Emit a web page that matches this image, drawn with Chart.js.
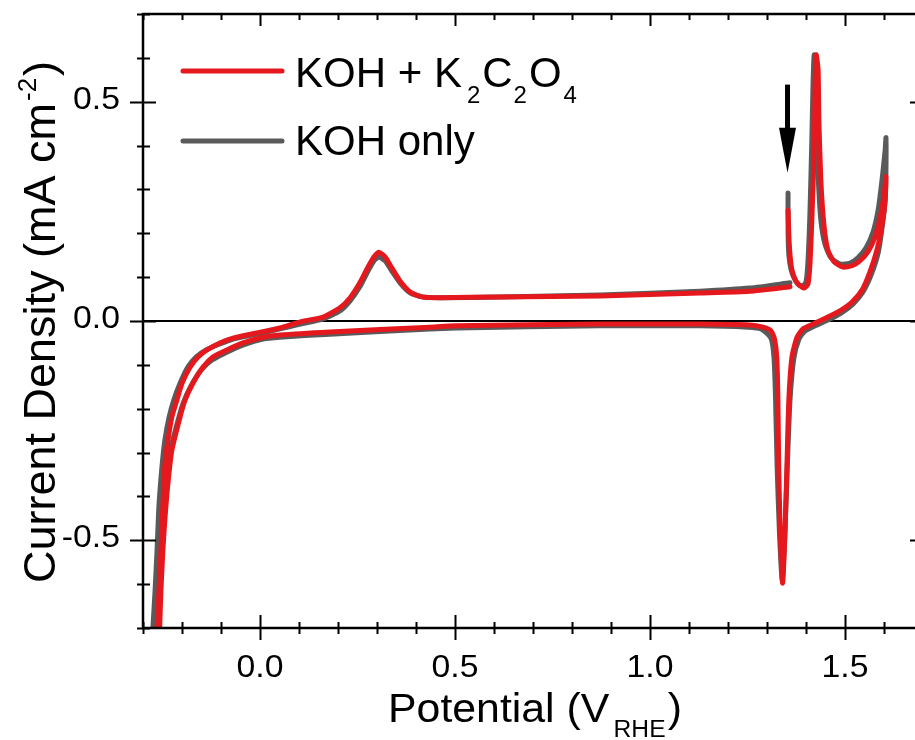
<!DOCTYPE html>
<html>
<head>
<meta charset="utf-8">
<script src="https://cdn.jsdelivr.net/npm/chart.js@4/dist/chart.umd.min.js"></script>
<style>
  html, body { margin: 0; padding: 0; background: #fff; overflow: hidden; width: 915px; height: 740px; }
  #wrap { position: relative; width: 915px; height: 740px; overflow: hidden; }
  canvas { position: absolute; left: 0; top: 0; }
</style>
</head>
<body>
<div id="wrap"><canvas id="cv" width="925" height="740" style="width:925px;height:740px"></canvas></div>
<script>
// Cyclic voltammograms: potential (V vs RHE) and current density (mA cm^-2).
// null separates the two recorded segments of each scan.
const redPotential = [
  -0.265, -0.259, -0.254, -0.249, -0.244, -0.236, -0.226, -0.213, -0.200, -0.179,
  -0.159, -0.136, -0.103, -0.069, -0.008, 0.051, 0.103, 0.162, 0.205, 0.231,
  0.256, 0.277, 0.292, 0.305, 0.321, 0.338, 0.359, 0.385, 0.415, 0.462,
  0.615, 0.872, 1.128, 1.256, 1.359,
  null,
  1.354, 1.356, 1.359, 1.364, 1.374, 1.385, 1.395, 1.405, 1.410, 1.415,
  1.421, 1.423, 1.426, 1.431, 1.433, 1.438, 1.446, 1.456, 1.472, 1.495,
  1.518, 1.538, 1.559, 1.577, 1.590, 1.600, 1.605,
  1.603, 1.595, 1.582, 1.564, 1.544, 1.518, 1.487, 1.451, 1.418, 1.392,
  1.377, 1.364, 1.356, 1.351, 1.346, 1.340, 1.334, 1.330, 1.328, 1.325,
  1.319, 1.310, 1.290, 1.256, 1.128, 0.872, 0.503, 0.436, 0.179, 0.051,
  0.008, -0.044, -0.085, -0.121, -0.146, -0.172, -0.192, -0.205, -0.226, -0.236,
  -0.244, -0.249, -0.254, -0.258
];
const redCurrent = [
  -0.72, -0.614, -0.523, -0.420, -0.329, -0.272, -0.219, -0.180, -0.142, -0.105,
  -0.082, -0.066, -0.050, -0.039, -0.027, -0.016, -0.002, 0.009, 0.030, 0.053,
  0.087, 0.123, 0.146, 0.157, 0.146, 0.121, 0.091, 0.066, 0.055, 0.053,
  0.055, 0.057, 0.064, 0.068, 0.078,
  null,
  0.253, 0.196, 0.151, 0.116, 0.091, 0.080, 0.075, 0.084, 0.128, 0.231,
  0.390, 0.527, 0.607, 0.573, 0.459, 0.322, 0.219, 0.162, 0.135, 0.123,
  0.126, 0.137, 0.158, 0.192, 0.235, 0.285, 0.329,
  0.276, 0.219, 0.162, 0.112, 0.071, 0.043, 0.023, 0.007, -0.007, -0.018,
  -0.037, -0.082, -0.180, -0.333, -0.484, -0.598, -0.484, -0.333, -0.180, -0.082,
  -0.040, -0.022, -0.014, -0.009, -0.007, -0.007, -0.011, -0.014, -0.025, -0.032,
  -0.037, -0.050, -0.066, -0.082, -0.105, -0.142, -0.180, -0.219, -0.295, -0.370,
  -0.454, -0.523, -0.614, -0.72
];

const grayPotential = [
  -0.276, -0.269, -0.264, -0.259, -0.251, -0.244, -0.233, -0.221, -0.205, -0.185,
  -0.164, -0.138, -0.105, -0.069, -0.008, 0.051, 0.103, 0.162, 0.205, 0.231,
  0.256, 0.277, 0.292, 0.305, 0.321, 0.338, 0.359, 0.385, 0.415, 0.462,
  0.615, 0.872, 1.128, 1.256, 1.359,
  null,
  1.354, 1.354, 1.356, 1.362, 1.372, 1.382, 1.392, 1.400, 1.405, 1.410,
  1.415, 1.418, 1.421, 1.423, 1.426, 1.431, 1.438, 1.449, 1.464, 1.487,
  1.513, 1.533, 1.554, 1.572, 1.585, 1.595, 1.603, 1.605,
  1.605, 1.603, 1.595, 1.585, 1.567, 1.546, 1.521, 1.490, 1.456, 1.423,
  1.397, 1.382, 1.369, 1.359, 1.352, 1.346, 1.339, 1.332, 1.326, 1.322,
  1.318, 1.310, 1.285, 1.251, 1.128, 0.872, 0.503, 0.436, 0.179, 0.051,
  0.008, -0.044, -0.085, -0.123, -0.151, -0.177, -0.197, -0.210, -0.231, -0.244,
  -0.251, -0.256, -0.262, -0.268
];
const grayCurrent = [
  -0.72, -0.614, -0.523, -0.420, -0.329, -0.272, -0.219, -0.180, -0.142, -0.105,
  -0.082, -0.066, -0.053, -0.041, -0.030, -0.018, -0.007, 0.005, 0.023, 0.046,
  0.078, 0.114, 0.137, 0.146, 0.137, 0.114, 0.087, 0.064, 0.055, 0.053,
  0.055, 0.059, 0.068, 0.075, 0.087,
  null,
  0.292, 0.208, 0.151, 0.116, 0.094, 0.082, 0.080, 0.089, 0.135, 0.242,
  0.413, 0.539, 0.607, 0.562, 0.459, 0.333, 0.231, 0.174, 0.144, 0.130,
  0.132, 0.144, 0.167, 0.203, 0.253, 0.322, 0.390, 0.418,
  0.345, 0.276, 0.212, 0.155, 0.105, 0.066, 0.039, 0.018, 0.002, -0.011,
  -0.023, -0.041, -0.084, -0.180, -0.333, -0.484, -0.590, -0.484, -0.333, -0.180,
  -0.084, -0.039, -0.018, -0.014, -0.011, -0.011, -0.016, -0.018, -0.030, -0.037,
  -0.041, -0.055, -0.071, -0.089, -0.112, -0.148, -0.187, -0.226, -0.299, -0.374,
  -0.454, -0.523, -0.614, -0.72
];

// Axis ticks and labels
const xTickValues = [0, 0.5, 1.0, 1.5];
const xTickLabels = ['0.0', '0.5', '1.0', '1.5'];
const yTickValues = [-0.5, 0, 0.5];
const yTickLabels = ['-0.5', '0.0', '0.5'];

// Arrow marking the break in the scans (data units)
const arrowPotential = 1.3526;
const arrowTailCurrent = 0.539;
const arrowTipCurrent = 0.338;

const RED = '#e5181e';
const GRAY = '#5a5a5a';
const FONT = '"Liberation Sans", Arial, Helvetica, sans-serif';

function toPoints(pot, cur) {
  let last = 0;
  return pot.map((v, i) => {
    if (v === null || cur[i] === null) return { x: last, y: null };
    last = v;
    return { x: v, y: cur[i] };
  });
}

function textWidth(ctx, parts) {
  let w = 0;
  for (const p of parts) {
    ctx.font = p.size + 'px ' + FONT;
    w += (p.pre || 0) + ctx.measureText(p.t).width;
  }
  return w;
}

// Draws a run of text pieces (with sub/superscripts) starting at the origin.
function drawParts(ctx, parts) {
  let cx = 0;
  ctx.textAlign = 'left';
  ctx.textBaseline = 'alphabetic';
  for (const p of parts) {
    ctx.font = p.size + 'px ' + FONT;
    cx += (p.pre || 0);
    ctx.fillText(p.t, cx, p.dy || 0);
    cx += ctx.measureText(p.t).width;
  }
}

function label(ctx, s, x, y, size, sx, align) {
  ctx.save();
  ctx.translate(x, y);
  ctx.scale(sx, 1);
  ctx.font = size + 'px ' + FONT;
  ctx.textAlign = align;
  ctx.textBaseline = 'alphabetic';
  ctx.fillText(s, 0, 0);
  ctx.restore();
}

const near = (arr, v) => arr.some(a => Math.abs(a - v) < 1e-6);

const framePlugin = {
  id: 'framePlugin',
  beforeDatasetsDraw(chart) {
    const { ctx, chartArea: a, scales: { y } } = chart;
    const y0 = y.getPixelForValue(0);
    ctx.save();
    ctx.strokeStyle = '#000';
    ctx.lineWidth = 2;
    ctx.beginPath();
    ctx.moveTo(a.left, y0);
    ctx.lineTo(a.right, y0);
    ctx.stroke();
    ctx.restore();
  },
  afterDatasetsDraw(chart) {
    const { ctx, chartArea: a, scales: { x, y } } = chart;
    ctx.save();
    ctx.strokeStyle = '#000';
    ctx.fillStyle = '#000';

    // frame
    ctx.lineWidth = 2.5;
    ctx.beginPath();
    ctx.rect(a.left, a.top, a.right - a.left, a.bottom - a.top);
    ctx.stroke();

    // x ticks: bottom crosses the axis, top points inward
    ctx.lineWidth = 2;
    ctx.beginPath();
    for (let i = -3; i <= 17; i++) {
      const v = i / 10;
      const px = Math.round(x.getPixelForValue(v)) + 0.5;
      const major = near(xTickValues, v);
      ctx.moveTo(px, a.bottom - (major ? 13 : 6));
      ctx.lineTo(px, a.bottom + (major ? 12 : 6));
      ctx.moveTo(px, a.top);
      ctx.lineTo(px, a.top + (major ? 12 : 6));
    }
    // y ticks: left crosses the axis, right has majors only, inward
    for (let i = -7; i <= 7; i++) {
      const v = i / 10;
      const py = Math.round(y.getPixelForValue(v)) + 0.5;
      const major = near(yTickValues, v);
      ctx.moveTo(a.left - (major ? 13 : 6), py);
      ctx.lineTo(a.left + (major ? 13 : 7), py);
      if (major) {
        ctx.moveTo(a.right - 13, py);
        ctx.lineTo(a.right, py);
      }
    }
    ctx.stroke();

    // tick labels
    xTickValues.forEach((v, i) => {
      label(ctx, xTickLabels[i], x.getPixelForValue(v), a.bottom + 49, 31, 1.09, 'center');
    });
    yTickValues.forEach((v, i) => {
      label(ctx, yTickLabels[i], a.left - 23, y.getPixelForValue(v) + 7, 31, 1.09, 'right');
    });

    // x-axis title
    const xParts = [
      { t: 'Potential (V', size: 40 },
      { t: 'RHE', size: 23, dy: 15, pre: 4 },
      { t: ')', size: 40, pre: 2 }
    ];
    const xsx = 1.07;
    const xw = textWidth(ctx, xParts) * xsx;
    ctx.save();
    ctx.translate((a.left + a.right) / 2 - xw / 2 + 2, 722);
    ctx.scale(xsx, 1);
    drawParts(ctx, xParts);
    ctx.restore();

    // y-axis title (rotated)
    const yParts = [
      { t: 'Current Density (mA cm', size: 45 },
      { t: '-2', size: 26, dy: -19, pre: 2 },
      { t: ')', size: 45, pre: 2 }
    ];
    const yw = textWidth(ctx, yParts);
    ctx.save();
    ctx.translate(55, 322 + yw / 2);
    ctx.rotate(-Math.PI / 2);
    drawParts(ctx, yParts);
    ctx.restore();

    // legend
    ctx.lineCap = 'round';
    ctx.lineWidth = 5;
    ctx.strokeStyle = RED;
    ctx.beginPath(); ctx.moveTo(183, 71); ctx.lineTo(282, 71); ctx.stroke();
    ctx.strokeStyle = GRAY;
    ctx.beginPath(); ctx.moveTo(183, 141); ctx.lineTo(282, 141); ctx.stroke();
    ctx.fillStyle = '#000';
    ctx.save();
    ctx.translate(295, 87);
    drawParts(ctx, [
      { t: 'KOH + K', size: 42 },
      { t: '2', size: 24, dy: 16, pre: 5 },
      { t: 'C', size: 42, pre: 2 },
      { t: '2', size: 24, dy: 16, pre: 1 },
      { t: 'O', size: 42, pre: 2 },
      { t: '4', size: 24, dy: 16, pre: 2 }
    ]);
    ctx.restore();
    ctx.save();
    ctx.translate(295, 155);
    drawParts(ctx, [{ t: 'KOH only', size: 42 }]);
    ctx.restore();

    // arrow
    const ax = x.getPixelForValue(arrowPotential);
    const ay0 = y.getPixelForValue(arrowTailCurrent);
    const ay1 = y.getPixelForValue(arrowTipCurrent);
    const headLen = 45, headHalf = 8.5;
    ctx.fillRect(ax - 2.5, ay0, 5, ay1 - headLen - ay0 + 2);
    ctx.beginPath();
    ctx.moveTo(ax - headHalf, ay1 - headLen);
    ctx.lineTo(ax + headHalf, ay1 - headLen);
    ctx.lineTo(ax, ay1);
    ctx.closePath();
    ctx.fill();

    ctx.restore();
  }
};

const lineStyle = {
  showLine: true,
  pointRadius: 0,
  borderWidth: 5,
  tension: 0.2,
  spanGaps: false,
  borderCapStyle: 'round',
  borderJoinStyle: 'round',
  fill: false
};

new Chart(document.getElementById('cv').getContext('2d'), {
  type: 'scatter',
  data: {
    datasets: [
      Object.assign({ label: 'KOH + K\u2082C\u2082O\u2084', data: toPoints(redPotential, redCurrent),
        borderColor: RED, backgroundColor: RED, order: 0 }, lineStyle),
      Object.assign({ label: 'KOH only', data: toPoints(grayPotential, grayCurrent),
        borderColor: GRAY, backgroundColor: GRAY, order: 1 }, lineStyle)
    ]
  },
  options: {
    responsive: false,
    animation: false,
    devicePixelRatio: 1,
    events: [],
    layout: { padding: { top: 14, right: 2, left: 0, bottom: 0 } },
    plugins: { legend: { display: false }, tooltip: { enabled: false }, title: { display: false } },
    scales: {
      x: {
        type: 'linear', min: -0.3, max: 1.7,
        grid: { display: false }, border: { display: false },
        ticks: { display: false, stepSize: 0.1 },
        afterFit(s) { s.height = 112; }
      },
      y: {
        type: 'linear', min: -0.7, max: 0.7,
        grid: { display: false }, border: { display: false },
        ticks: { display: false, stepSize: 0.1 },
        afterFit(s) { s.width = 143; }
      }
    }
  },
  plugins: [framePlugin]
});
</script>
</body>
</html>
